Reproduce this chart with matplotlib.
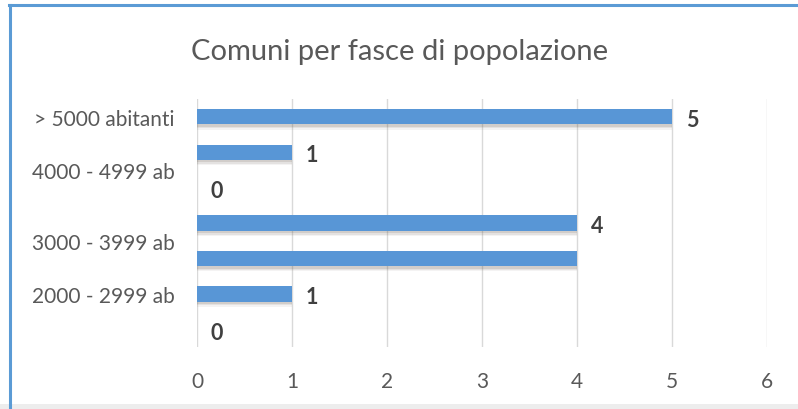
import numpy as np
import matplotlib.pyplot as plt
from matplotlib.lines import Line2D
from matplotlib.patches import Rectangle

# Data
values = [5, 1, 0, 4, 4, 1, 0]
value_labels = ["5", "1", "0", "4", "", "1", "0"]
categories = ["> 5000 abitanti", "4000 - 4999 ab", "3000 - 3999 ab", "2000 - 2999 ab"]
category_slots = [0, 1.5, 3.5, 5]
x_ticks = [0, 1, 2, 3, 4, 5, 6]

plt.rcParams['font.family'] = ['Lato', 'DejaVu Sans']

fig = plt.figure(figsize=(7.98, 4.10), dpi=100)
ax = fig.add_axes([0.2469, 0.151, 0.7143, 0.605])

pos = np.arange(len(values))
bar_h = 0.43

# soft shadow under the bars
for k, a in enumerate([0.16, 0.11, 0.07]):
    ax.barh(pos + 0.07 + k * 0.04, values, height=bar_h, color='#6B5F55',
            alpha=a, zorder=2, linewidth=0)
ax.barh(pos, values, height=bar_h, color='#5896D6', zorder=3, linewidth=0)

for p, v, lab in zip(pos, values, value_labels):
    if lab:
        ax.annotate(lab, (v, p), xytext=(14.5, -2), textcoords='offset points',
                    ha='center', va='center', fontsize=15.5, fontweight='bold',
                    color='#404040')

ax.set_xlim(0, 6)
ax.set_ylim(6.5, -0.5)
ax.set_xticks(x_ticks)
ax.set_xticklabels([str(t) for t in x_ticks])
ax.set_yticks(category_slots)
ax.set_yticklabels(categories)
ax.tick_params(axis='x', length=0, pad=17, labelsize=15, labelcolor='#595959')
ax.tick_params(axis='y', length=0, pad=16, labelsize=15, labelcolor='#595959')
ax.grid(axis='x', color='#D9D9D9', linewidth=1, zorder=0)
for s in ax.spines.values():
    s.set_visible(False)

fig.text(0.501, 0.872, "Comuni per fasce di popolazione", ha='center',
         va='center', fontsize=21, color='#595959')

# frame of the screenshot
fig.add_artist(Line2D([0.011, 1.0], [0.985, 0.985], color='#5B9BD5', lw=2.2))
fig.add_artist(Line2D([0.012, 0.012], [0.0, 0.986], color='#5B9BD5', lw=2.2))
fig.add_artist(Rectangle((0, 0), 1, 0.011, color='#EDEDED', lw=0))

fig.savefig('out.png', dpi=100)
